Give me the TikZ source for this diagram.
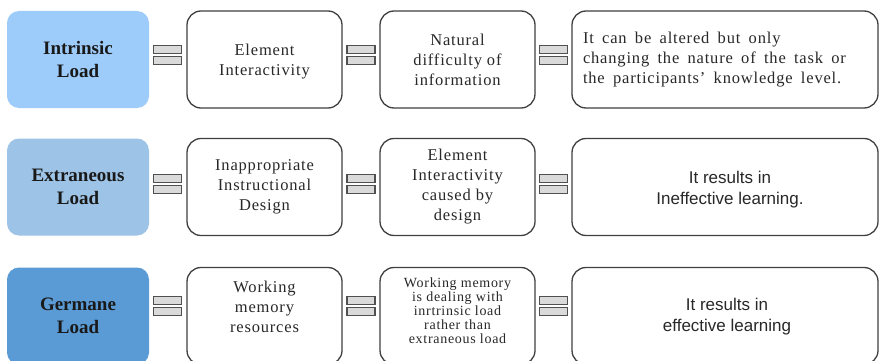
\documentclass[tikz,border=0pt]{standalone}
\usepackage{fontspec}
\setmainfont{Liberation Serif}
\newfontfamily\batang[LetterSpace=5]{Liberation Serif}
\newfontfamily\gulim{Liberation Sans}
\usetikzlibrary{calc}
\definecolor{intrc}{RGB}{157,203,250}
\definecolor{extrc}{RGB}{157,195,230}
\definecolor{germc}{RGB}{91,155,213}
\definecolor{edgec}{RGB}{64,64,64}
\definecolor{barc}{RGB}{218,218,218}
\definecolor{baredge}{RGB}{80,80,80}
\definecolor{txtc}{RGB}{40,40,40}
\tikzset{
  head/.style={rounded corners=12pt, minimum width=142pt, minimum height=97pt, inner sep=0pt,
    align=center, font=\fontsize{19}{23.5}\selectfont\bfseries, text=black!90},
  wbox/.style={draw=edgec, line width=1.3pt, rounded corners=14pt, fill=white, minimum height=97pt,
    inner sep=0pt},
  midbox/.style={wbox, minimum width=155pt},
  widebox/.style={wbox, minimum width=306pt},
  serift/.style={inner sep=0pt, align=center, text=txtc, font=\batang\fontsize{16.5}{20}\selectfont},
  smallt/.style={serift, font=\batang\fontsize{14}{14}\selectfont},
  sanst/.style={inner sep=0pt, align=center, text=txtc, font=\gulim\fontsize{17}{21}\selectfont},
  bar/.style={draw=baredge, line width=1.1pt, fill=barc, minimum width=28pt, minimum height=8pt, inner sep=0pt}
}
\begin{document}
\begin{tikzpicture}[x=1pt,y=-1pt]
\useasboundingbox (0,0) rectangle (880,361);
\clip (0,0) rectangle (880,361);
\fill[white] (0,0) rectangle (880,361);
% row 1
\node[head, fill=intrc] (h1) at (78,59.5) {Intrinsic\\Load};
\node[midbox] (a1) at (264.5,59.5) {};
\node[serift] (a1t) at ($(a1)+(0,2.5)$) {Element\\Interactivity};
\node[midbox] (b1) at (457.5,59.5) {};
\node[serift] (b1t) at (b1) {Natural\\difficulty of\\information};
\node[widebox] (c1) at (725,59.5) {};
\node[serift, text width=284pt, align=left] (c1t) at (c1) {\spaceskip=0.5em It can be altered but only\\changing the nature of the task or\\the participants’ knowledge level.};
% row 2
\node[head, fill=extrc] (h2) at (78,187) {Extraneous\\Load};
\node[midbox] (a2) at (264.5,187) {};
\node[serift] (a2t) at (a2) {Inappropriate\\Instructional\\Design};
\node[midbox] (b2) at (457.5,187) {};
\node[serift] (b2t) at (b2) {Element\\Interactivity\\caused by\\design};
\node[widebox] (c2) at (725,187) {};
\node[sanst] (c2t) at ($(c2)+(5,3)$) {It results in\\Ineffective learning.};
% row 3
\node[head, fill=germc] (h3) at (78,316) {Germane\\Load};
\node[midbox] (a3) at (264.5,316) {};
\node[serift] (a3t) at ($(a3)+(0,-9)$) {Working\\memory\\resources};
\node[midbox] (b3) at (457.5,316) {};
\node[smallt] (b3t) at ($(b3)+(0,-5)$) {Working memory\\is dealing with\\inrtrinsic load\\rather than\\extraneous load};
\node[widebox] (c3) at (725,316) {};
\node[sanst] (c3t) at ($(c3)+(2,1)$) {It results in\\effective learning};
% equal-sign connectors
\foreach \r/\off in {1/-4.5, 2/-3, 3/-10}{
  \foreach \p/\q in {h/a, a/b, b/c}{
    \coordinate (m\p\q\r) at ($(\p\r.east)!0.5!(\q\r.west)+(0,\off)$);
    \node[bar, anchor=south] (t\p\q\r) at ($(m\p\q\r)+(0,-0.9)$) {};
    \node[bar, anchor=north] (u\p\q\r) at ($(m\p\q\r)+(0,0.9)$) {};
  }
}
\end{tikzpicture}
\end{document}
